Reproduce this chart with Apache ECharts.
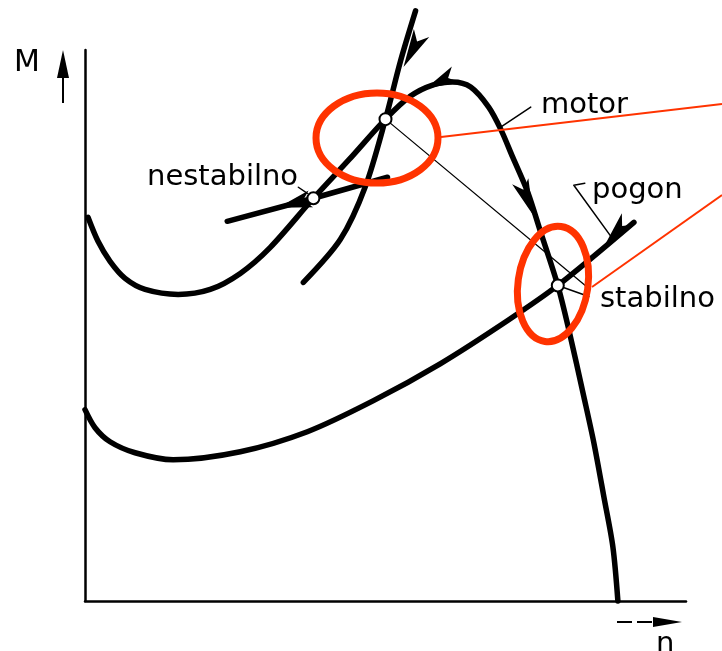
<!DOCTYPE html>
<html>
<head>
<meta charset="utf-8">
<title>motor / pogon</title>
<script src="https://cdn.jsdelivr.net/npm/echarts@6.0.0/dist/echarts.min.js"></script>
<style>
  html, body { margin: 0; padding: 0; background: #fff; }
  #main { width: 722px; height: 651px; }
</style>
</head>
<body>
<div id="main"></div>
<script>
// n = brzina, M = moment (proizvoljne jedinice, ocitano sa slike)
var motorN = [0.6, 2.6, 5.0, 8.0, 12.0, 18.6, 25.0, 31.0, 37.0, 45.6, 52.8, 60.0, 65.0, 69.4, 73.4, 77.0, 80.6, 83.0, 85.4, 88.4, 90.8, 94.4, 96.6, 99.6, 101.6, 103.6, 105.4, 106.4];
var motorM = [76.6, 71.8, 67.8, 64.4, 62.2, 61.2, 62.2, 65.4, 70.6, 80.4, 88.2, 96.2, 100.8, 103.0, 103.6, 102.6, 98.6, 94.2, 88.6, 81.6, 74.2, 63.0, 54.2, 40.8, 31.6, 20.8, 10.8, 0];

// pogon (stabilno sjeciste)
var loadN = [0, 2.0, 5.0, 10.0, 17.6, 31.0, 44.4, 57.6, 71.0, 84.4, 94.4, 109.6];
var loadM = [38.2, 34.6, 31.8, 29.6, 28.2, 29.8, 33.8, 40.0, 47.4, 56.0, 63.0, 75.6];

// strmi pogon (gornje sjeciste)
var steepN = [43.6, 51.0, 56.0, 60.0, 63.0, 66.0];
var steepM = [63.6, 72.2, 82.8, 96.2, 107.8, 117.8];

// pravac kroz nestabilnu tocku
var tangentN = [28.4, 45.6, 60.4];
var tangentM = [75.8, 80.4, 84.6];

// tanka spojnica izmedu sjecista
var linkN = [60.0, 100.6];
var linkM = [96.2, 62.4];

// radne tocke
var pointN = [60.0, 45.6, 94.4];
var pointM = [96.2, 80.4, 63.0];

// strelice: rep -> vrh
var arrowTail = [[65.4, 110.0], [71.0, 103.7], [88.2, 80.4], [106.0, 73.4], [41.8, 79.4]];
var arrowTip = [[61.8, 103.2], [65.0, 100.8], [90.8, 73.6], [101.0, 67.6], [35.2, 77.6]];

// kratke crte do natpisa
var pointerLines = [
  [[83.0, 94.6], [89.0, 98.6]],
  [[99.8, 83.4], [97.6, 83.0], [105.0, 72.8]],
  [[94.4, 63.0], [100.6, 60.8]],
  [[42.6, 82.6], [44.4, 81.4]]
];

function zip(a, b) {
  return a.map(function (v, i) { return [v, b[i]]; });
}

var black = '#000';
var red = '#ff3300';
var font = '"DejaVu Sans", sans-serif';

function curve(id, data, width, smooth) {
  return {
    id: id,
    type: 'line',
    data: data,
    showSymbol: false,
    smooth: smooth,
    clip: false,
    silent: true,
    z: 3,
    lineStyle: { color: black, width: width, cap: 'round', join: 'round' }
  };
}

function label(text, x, y, size) {
  return {
    type: 'text',
    x: x,
    y: y,
    z: 50,
    style: { text: text, font: size + 'px ' + font, fill: black, verticalAlign: 'middle' }
  };
}

var chart = echarts.init(document.getElementById('main'));

var series = [
  curve('motor', zip(motorN, motorM), 5.5, 0.3),
  curve('load', zip(loadN, loadM), 5.5, 0.3),
  curve('steep', zip(steepN, steepM), 5.5, 0.3),
  curve('tangent', zip(tangentN, tangentM), 5.5, 0),
  curve('link', zip(linkN, linkM), 1.3, 0)
];
pointerLines.forEach(function (p, i) {
  series.push(curve('pointer' + i, p, 1.5, 0));
});
series.push({
  id: 'arrows',
  type: 'scatter',
  symbol: 'arrow',
  silent: true,
  z: 4,
  itemStyle: { color: black, opacity: 1 },
  data: []
});
series.push({
  id: 'points',
  type: 'scatter',
  symbol: 'circle',
  symbolSize: 12,
  silent: true,
  z: 6,
  itemStyle: { color: '#fff', borderColor: black, borderWidth: 2, opacity: 1 },
  data: zip(pointN, pointM)
});

var option = {
  animation: false,
  backgroundColor: '#fff',
  grid: { left: 85, top: 50, width: 601, height: 551 },
  xAxis: {
    type: 'value', min: 0, max: 120,
    axisLine: { show: true, lineStyle: { color: black, width: 2.5 } },
    axisTick: { show: false }, axisLabel: { show: false }, splitLine: { show: false }
  },
  yAxis: {
    type: 'value', min: 0, max: 110,
    axisLine: { show: true, lineStyle: { color: black, width: 2.5 } },
    axisTick: { show: false }, axisLabel: { show: false }, splitLine: { show: false }
  },
  series: series,
  graphic: [
    // crvene oznake
    { type: 'ellipse', z: 100, shape: { cx: 377, cy: 138, rx: 61, ry: 45 },
      style: { fill: 'none', stroke: red, lineWidth: 7 } },
    { type: 'ellipse', z: 100, x: 553, y: 284, rotation: -0.14, shape: { cx: 0, cy: 0, rx: 35, ry: 58 },
      style: { fill: 'none', stroke: red, lineWidth: 7 } },
    { type: 'line', z: 100, shape: { x1: 441, y1: 137, x2: 722, y2: 104 },
      style: { stroke: red, lineWidth: 2 } },
    { type: 'line', z: 100, shape: { x1: 592, y1: 287, x2: 722, y2: 195 },
      style: { stroke: red, lineWidth: 2 } },
    // strelica uz M
    { type: 'line', z: 50, shape: { x1: 63, y1: 103, x2: 63, y2: 72 },
      style: { stroke: black, lineWidth: 2 } },
    { type: 'polygon', z: 50, shape: { points: [[63, 50], [69, 78], [57, 78]] },
      style: { fill: black } },
    // strelica uz n
    { type: 'line', z: 50, shape: { x1: 617, y1: 622, x2: 658, y2: 622 },
      style: { stroke: black, lineWidth: 2, lineDash: [15, 5] } },
    { type: 'polygon', z: 50, shape: { points: [[682, 622], [653, 617], [653, 627]] },
      style: { fill: black } },
    label('M', 14, 63, 30),
    label('n', 656, 644, 29),
    label('motor', 541, 105, 29),
    label('pogon', 592, 190, 29),
    label('nestabilno', 147, 177, 29),
    label('stabilno', 600, 299, 29)
  ]
};

chart.setOption(option);

// smjer strelica racunamo u pikselima
var arrowData = arrowTail.map(function (t, i) {
  var tip = arrowTip[i];
  var p = chart.convertToPixel({ gridIndex: 0 }, t);
  var q = chart.convertToPixel({ gridIndex: 0 }, tip);
  var dx = q[0] - p[0];
  var dy = q[1] - p[1];
  var len = Math.sqrt(dx * dx + dy * dy);
  return {
    value: [(t[0] + tip[0]) / 2, (t[1] + tip[1]) / 2],
    symbolRotate: Math.atan2(-dx, -dy) * 180 / Math.PI,
    symbolSize: [13, len]
  };
});
chart.setOption({ series: [{ id: 'arrows', data: arrowData }] });
</script>
</body>
</html>
